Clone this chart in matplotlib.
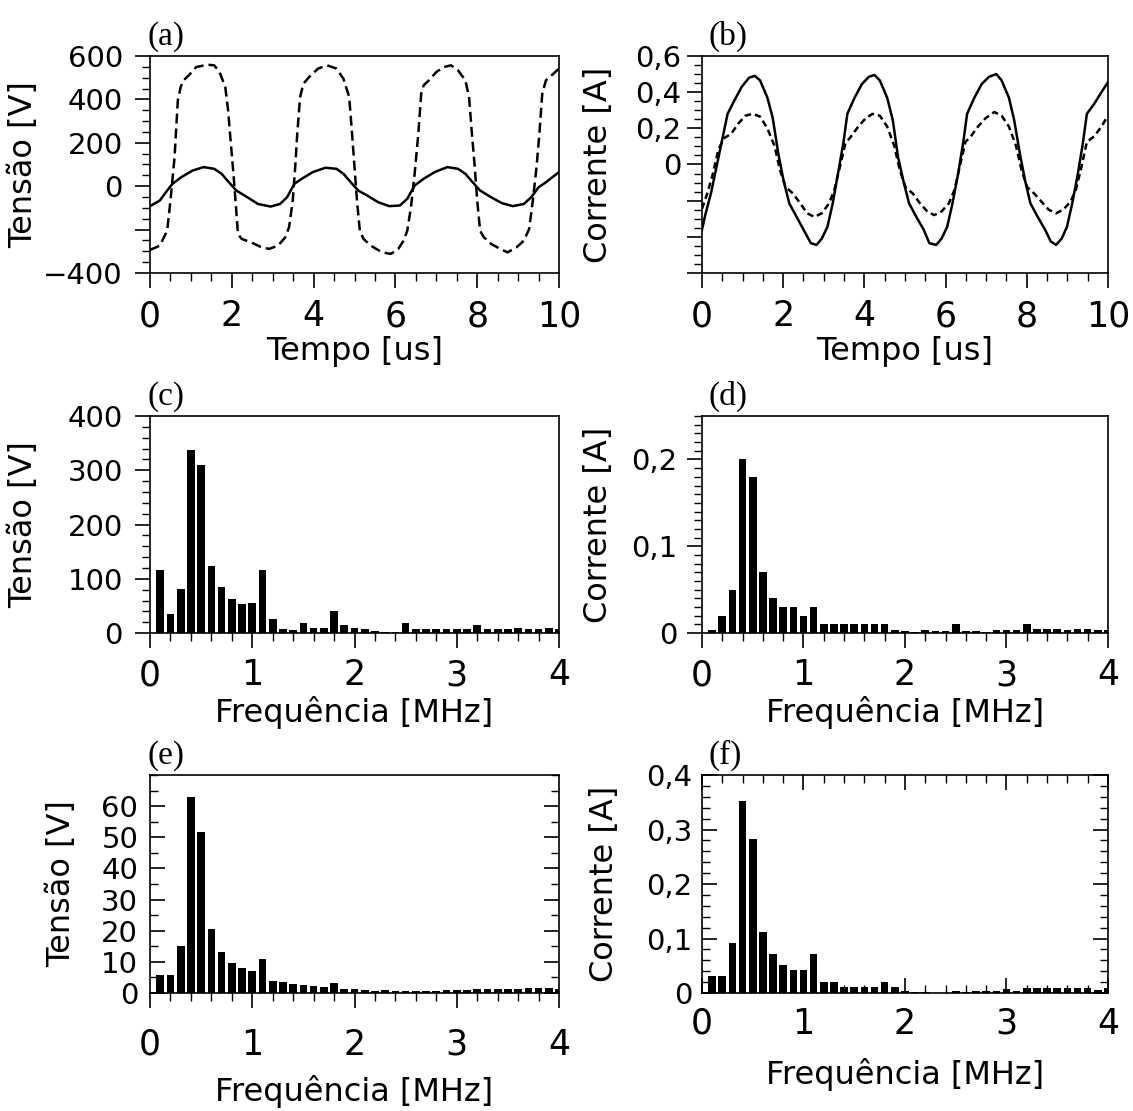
import matplotlib
matplotlib.use("Agg")
import matplotlib.pyplot as plt
import numpy as np
from matplotlib.ticker import MultipleLocator

# (a) tensao no tempo [us] -> [V]
t_a_dash = [0, 0.24, 0.42, 0.5, 0.6, 0.68, 0.75, 0.82, 0.95, 1.13,
            1.4, 1.57, 1.7, 1.84, 1.91, 1.97, 2.04, 2.09, 2.15, 2.24,
            2.46, 2.73, 2.91, 3.13, 3.31, 3.4, 3.49, 3.55, 3.6, 3.67,
            3.75, 3.89, 4.11, 4.33, 4.56, 4.73, 4.87, 4.94, 5.0, 5.06,
            5.13, 5.22, 5.4, 5.67, 5.89, 6.07, 6.2, 6.29, 6.38, 6.47,
            6.56, 6.63, 6.69, 6.82, 7.0, 7.18, 7.36, 7.53, 7.71, 7.8,
            7.87, 7.94, 8.0, 8.07, 8.16, 8.34, 8.56, 8.74, 8.96, 9.14,
            9.27, 9.36, 9.45, 9.52, 9.59, 9.68, 9.82, 10.0]
v_a_dash = [-294, -274, -205, -66, 134, 395, 457, 488, 511, 549,
            560, 557, 526, 457, 349, 211, 57, -66, -220, -243,
            -258, -282, -289, -274, -235, -189, -66, 88, 242, 411,
            472, 503, 542, 557, 542, 495, 411, 242, 88, -66,
            -205, -243, -274, -305, -312, -289, -251, -205, -97, 57,
            242, 426, 465, 488, 526, 549, 557, 534, 488, 411,
            242, 88, -66, -205, -235, -266, -289, -305, -282, -251,
            -197, -66, 88, 242, 426, 488, 511, 542]
t_a_solid = [0, 0.24, 0.42, 0.55, 0.77, 1.04, 1.31, 1.57, 1.75, 1.93,
             2.11, 2.38, 2.64, 2.95, 3.18, 3.35, 3.53, 3.71, 3.98, 4.29,
             4.56, 4.73, 4.91, 5.09, 5.31, 5.58, 5.85, 6.11, 6.29, 6.47,
             6.69, 6.96, 7.27, 7.53, 7.71, 7.89, 8.07, 8.34, 8.6, 8.87,
             9.14, 9.32, 9.5, 9.68, 10.0]
v_a_solid = [-92, -66, -20, 11, 42, 72, 88, 80, 57, 18,
             -20, -51, -82, -94, -82, -51, 11, 34, 65, 85,
             80, 57, 18, -20, -43, -74, -92, -89, -58, 3,
             34, 65, 88, 80, 57, 18, -20, -51, -78, -92,
             -82, -51, -5, 18, 65]

# (b) corrente no tempo [us] -> [A]
t_b_solid = [0, 0.09, 0.22, 0.36, 0.49, 0.63, 0.8, 0.98, 1.16, 1.3,
             1.43, 1.61, 1.74, 1.88, 2.01, 2.15, 2.33, 2.5, 2.68, 2.82,
             2.95, 3.09, 3.22, 3.35, 3.49, 3.58, 3.76, 3.94, 4.11, 4.25,
             4.38, 4.56, 4.7, 4.83, 4.96, 5.1, 5.28, 5.46, 5.6, 5.77,
             5.9, 6.04, 6.17, 6.31, 6.44, 6.53, 6.71, 6.89, 7.07, 7.25,
             7.38, 7.56, 7.69, 7.83, 7.96, 8.09, 8.27, 8.45, 8.59, 8.72,
             8.86, 8.99, 9.12, 9.26, 9.39, 9.48, 9.66, 9.84, 10.0]
i_b_solid = [-0.36, -0.27, -0.16, -0.01, 0.13, 0.28, 0.355, 0.43, 0.48, 0.49,
             0.465, 0.37, 0.26, 0.06, -0.09, -0.215, -0.29, -0.36, -0.435, -0.445,
             -0.41, -0.345, -0.215, -0.05, 0.13, 0.28, 0.37, 0.445, 0.485, 0.495,
             0.465, 0.37, 0.245, 0.04, -0.09, -0.215, -0.29, -0.36, -0.435, -0.445,
             -0.41, -0.345, -0.215, -0.05, 0.13, 0.28, 0.37, 0.445, 0.485, 0.5,
             0.465, 0.37, 0.245, 0.06, -0.09, -0.215, -0.29, -0.36, -0.425, -0.445,
             -0.41, -0.345, -0.215, -0.05, 0.13, 0.28, 0.335, 0.4, 0.455]
t_b_dash = [0, 0.13, 0.27, 0.4, 0.54, 0.72, 0.89, 1.07, 1.25, 1.43,
            1.61, 1.79, 1.92, 2.06, 2.24, 2.42, 2.59, 2.77, 2.95, 3.13,
            3.26, 3.4, 3.53, 3.67, 3.85, 4.03, 4.2, 4.38, 4.56, 4.74,
            4.87, 5.01, 5.19, 5.37, 5.55, 5.72, 5.9, 6.08, 6.22, 6.35,
            6.49, 6.62, 6.8, 6.98, 7.2, 7.38, 7.56, 7.74, 7.87, 8.01,
            8.18, 8.36, 8.54, 8.72, 8.9, 9.08, 9.21, 9.35, 9.48, 9.66,
            9.84, 10.0]
i_b_dash = [-0.245, -0.16, -0.05, 0.08, 0.145, 0.17, 0.225, 0.27, 0.28, 0.265,
            0.2, 0.1, -0.03, -0.125, -0.16, -0.215, -0.27, -0.29, -0.27, -0.215,
            -0.14, -0.01, 0.115, 0.155, 0.21, 0.255, 0.28, 0.27, 0.21, 0.1,
            -0.03, -0.125, -0.16, -0.215, -0.26, -0.28, -0.26, -0.215, -0.14, -0.01,
            0.125, 0.155, 0.21, 0.255, 0.29, 0.27, 0.21, 0.1, -0.03, -0.125,
            -0.16, -0.205, -0.25, -0.27, -0.25, -0.205, -0.14, -0.01, 0.125, 0.155,
            0.21, 0.27]

# espectros: 0,1 ... 4,0 MHz
freq = np.round(np.arange(1, 41) * 0.1, 1)
v_c = [117, 36, 81, 338, 310, 124, 84, 63, 53, 56,
       116, 25, 7, 6, 19, 10, 9, 41, 15, 9,
       7, 3, 2, 2, 18, 7, 7, 7, 7, 7,
       7, 15, 8, 7, 7, 9, 8, 8, 10, 8]
i_d = [0.003, 0.02, 0.05, 0.2, 0.18, 0.07, 0.04, 0.03, 0.03, 0.02,
       0.03, 0.01, 0.01, 0.01, 0.01, 0.01, 0.01, 0.01, 0.004, 0.002,
       0.001, 0.004, 0.002, 0.002, 0.01, 0.002, 0.002, 0.001, 0.004, 0.003,
       0.004, 0.01, 0.005, 0.005, 0.005, 0.004, 0.005, 0.005, 0.004, 0.004]
v_e = [5.9, 5.9, 15.2, 63.1, 51.7, 20.6, 13.3, 9.6, 7.9, 7.0,
       10.9, 4.0, 3.4, 3.0, 2.7, 2.1, 1.9, 3.3, 1.4, 1.3,
       1.1, 0.8, 0.9, 0.8, 0.8, 0.8, 0.8, 0.8, 0.9, 1.1,
       1.1, 1.2, 1.2, 1.3, 1.4, 1.4, 1.5, 1.5, 1.6, 1.3]
i_f = [0.032, 0.032, 0.092, 0.352, 0.282, 0.112, 0.072, 0.052, 0.042, 0.042,
       0.072, 0.021, 0.021, 0.011, 0.011, 0.011, 0.011, 0.021, 0.011, 0.003,
       0.002, 0.001, 0.0, 0.0, 0.004, 0.002, 0.003, 0.003, 0.004, 0.008,
       0.004, 0.009, 0.009, 0.009, 0.009, 0.009, 0.009, 0.009, 0.005, 0.009]

LEFT_X, RIGHT_X = 0.1324, 0.6196
W_L, W_R = 0.361, 0.3583
ROWS = [(0.7543, 0.1953), (0.4302, 0.1953), (0.1062, 0.1962)]

TICK_X = 25
TICK_Y = 21
LABEL = 23


def comma(vals, fmt="{:.1f}"):
    out = []
    for v in vals:
        out.append("0" if v == 0 else fmt.format(v).replace(".", ","))
    return out


def base(ax, ylabel, xlabel, ylab_x, xlab_y, tag, tag_x):
    for s in ax.spines.values():
        s.set_linewidth(1.2)
    ax.set_ylabel(ylabel, fontsize=LABEL)
    ax.yaxis.label.set_va("center")
    ax.yaxis.set_label_coords(ylab_x, 0.5)
    ax.set_xlabel(xlabel, fontsize=LABEL)
    ax.xaxis.label.set_va("center")
    ax.xaxis.set_label_coords(0.5, xlab_y)
    ax.text(tag_x, 1.09, tag, transform=ax.transAxes, ha="left", va="center",
            fontsize=24, family="Liberation Serif")
    ax.tick_params(which="major", length=11, width=1.2)
    ax.tick_params(which="minor", length=5.5, width=1.0)
    ax.tick_params(axis="x", labelsize=TICK_X)
    ax.tick_params(axis="y", labelsize=TICK_Y)


def main() -> None:
    fig = plt.figure(figsize=(11.33, 11.11), dpi=100)
    ax_a = fig.add_axes([LEFT_X, ROWS[0][0], W_L, ROWS[0][1]])
    ax_b = fig.add_axes([RIGHT_X, ROWS[0][0], W_R, ROWS[0][1]])
    ax_c = fig.add_axes([LEFT_X, ROWS[1][0], W_L, ROWS[1][1]])
    ax_d = fig.add_axes([RIGHT_X, ROWS[1][0], W_R, ROWS[1][1]])
    ax_e = fig.add_axes([LEFT_X, ROWS[2][0], W_L, ROWS[2][1]])
    ax_f = fig.add_axes([RIGHT_X, ROWS[2][0], W_R, ROWS[2][1]])

    # (a)
    ax_a.plot(t_a_dash, v_a_dash, color="black", lw=1.8, dashes=(4, 2))
    ax_a.plot(t_a_solid, v_a_solid, color="black", lw=1.8)
    ax_a.set_xlim(0, 10)
    ax_a.set_ylim(-400, 600)
    ax_a.set_xticks([0, 2, 4, 6, 8, 10])
    ax_a.xaxis.set_minor_locator(MultipleLocator(0.5))
    ax_a.set_yticks([-400, -200, 0, 200, 400, 600])
    ax_a.set_yticklabels(["\u2212400", "", "0", "200", "400", "600"])
    ax_a.yaxis.set_minor_locator(MultipleLocator(50))
    base(ax_a, "Tensão [V]", "Tempo [us]", -0.31, -0.364, "(a)", -0.007)
    ax_a.tick_params(axis="x", direction="out", pad=8)
    ax_a.tick_params(axis="y", direction="out", pad=8.5)

    # (b)
    ax_b.plot(t_b_dash, i_b_dash, color="black", lw=1.8, dashes=(2.6, 1.6))
    ax_b.plot(t_b_solid, i_b_solid, color="black", lw=1.8)
    ax_b.set_xlim(0, 10)
    ax_b.set_ylim(-0.6, 0.6)
    ax_b.set_xticks([0, 2, 4, 6, 8, 10])
    ax_b.xaxis.set_minor_locator(MultipleLocator(0.5))
    ax_b.set_yticks([-0.6, -0.4, -0.2, 0, 0.2, 0.4, 0.6])
    ax_b.set_yticklabels(["", "", "", "0", "0,2", "0,4", "0,6"])
    ax_b.yaxis.set_minor_locator(MultipleLocator(0.05))
    base(ax_b, "Corrente [A]", "Tempo [us]", -0.256, -0.364, "(b)", 0.015)
    ax_b.tick_params(axis="x", direction="out", pad=8)
    ax_b.tick_params(axis="y", direction="out", pad=4)

    # (c)
    ax_c.bar(freq, v_c, width=0.075, color="black")
    ax_c.set_xlim(0, 4)
    ax_c.set_ylim(0, 400)
    ax_c.set_xticks([0, 1, 2, 3, 4])
    ax_c.xaxis.set_minor_locator(MultipleLocator(0.2))
    ax_c.set_yticks([0, 100, 200, 300, 400])
    ax_c.yaxis.set_minor_locator(MultipleLocator(20))
    base(ax_c, "Tensão [V]", "Frequência [MHz]", -0.31, -0.366, "(c)", -0.007)
    ax_c.tick_params(axis="x", direction="out", pad=7)
    ax_c.tick_params(axis="y", direction="out", pad=8.5)

    # (d)
    ax_d.bar(freq, i_d, width=0.075, color="black")
    ax_d.set_xlim(0, 4)
    ax_d.set_ylim(0, 0.25)
    ax_d.set_xticks([0, 1, 2, 3, 4])
    ax_d.xaxis.set_minor_locator(MultipleLocator(0.2))
    ax_d.set_yticks([0, 0.1, 0.2])
    ax_d.set_yticklabels(comma([0, 0.1, 0.2]))
    ax_d.yaxis.set_minor_locator(MultipleLocator(0.01))
    base(ax_d, "Corrente [A]", "Frequência [MHz]", -0.256, -0.366, "(d)", 0.015)
    ax_d.tick_params(axis="x", direction="out", pad=7)
    ax_d.tick_params(axis="y", direction="out", pad=6.5)

    # (e)
    ax_e.bar(freq, v_e, width=0.075, color="black")
    ax_e.set_xlim(0, 4)
    ax_e.set_ylim(0, 70)
    ax_e.set_xticks([0, 1, 2, 3, 4])
    ax_e.xaxis.set_minor_locator(MultipleLocator(0.2))
    ax_e.set_yticks([0, 10, 20, 30, 40, 50, 60])
    ax_e.yaxis.set_minor_locator(MultipleLocator(5))
    base(ax_e, "Tensão [V]", "Frequência [MHz]", -0.215, -0.454, "(e)", -0.007)
    ax_e.tick_params(axis="x", direction="out", pad=14)
    ax_e.tick_params(axis="y", which="both", direction="in", right=True, pad=8.5)

    # (f)
    ax_f.bar(freq, i_f, width=0.075, color="black")
    ax_f.set_xlim(0, 4)
    ax_f.set_ylim(0, 0.4)
    ax_f.set_xticks([0, 1, 2, 3, 4])
    ax_f.xaxis.set_minor_locator(MultipleLocator(0.2))
    ax_f.set_yticks([0, 0.1, 0.2, 0.3, 0.4])
    ax_f.set_yticklabels(comma([0, 0.1, 0.2, 0.3, 0.4]))
    ax_f.yaxis.set_minor_locator(MultipleLocator(0.02))
    base(ax_f, "Corrente [A]", "Frequência [MHz]", -0.241, -0.376, "(f)", 0.015)
    ax_f.tick_params(axis="x", which="both", direction="in", top=True, pad=10)
    ax_f.tick_params(axis="y", which="both", direction="in", right=True, pad=7)

    fig.savefig("out.png", dpi=100, facecolor="white")


if __name__ == "__main__":
    main()
